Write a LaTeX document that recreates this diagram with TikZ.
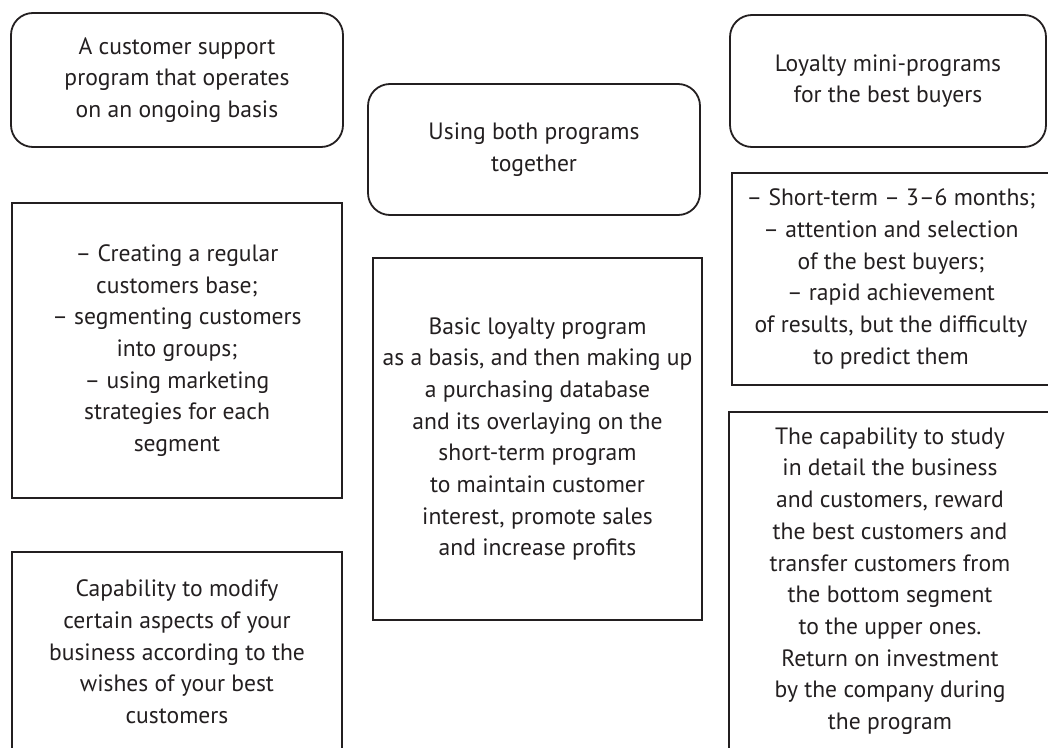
\documentclass[tikz,border=0pt]{standalone}
\usepackage{fontspec}
\setmainfont{PT Sans}
\definecolor{ink}{HTML}{231F20}
\tikzset{
  txt/.style={font=\fontsize{23.6}{31.7}\selectfont, align=center, text=ink, inner sep=0pt},
  box/.style={txt, draw=ink, line width=1.8pt},
  rbox/.style={box, rounded corners=22pt},
}
\begin{document}
\begin{tikzpicture}[x=1pt,y=-1pt]
\useasboundingbox (0,0) rectangle (1048,747);
\clip (0,0) rectangle (1048,747);
\node[rbox, minimum width=332pt, minimum height=134pt] (supp) at (177,80)
  {A customer support\\program that operates\\on an ongoing basis};
\node[rbox, minimum width=316pt, minimum height=132pt] (mini) at (888,81)
  {Loyalty mini-programs\\for the best buyers};
\node[rbox, minimum width=332pt, minimum height=131pt] (both) at (534,149.5)
  {Using both programs\\together};
\node[box, minimum width=330pt, minimum height=295pt] (base) at (177,350.5)
  {-- Creating a regular\\customers base;\\-- segmenting customers\\into groups;\\-- using marketing\\strategies for each\\segment};
\node[box, minimum width=330pt, minimum height=200pt] (modify) at (177,652)
  {Capability to modify\\certain aspects of your\\business according to the\\wishes of your best\\customers};
\node[box, minimum width=329pt, minimum height=362pt] (basic) at (537.5,439)
  {Basic loyalty program\\as a basis, and then making up\\a purchasing database\\and its overlaying on the\\short-term program\\to maintain customer\\interest, promote sales\\and increase profits};
\node[box, minimum width=318pt, minimum height=212pt] (short) at (891,279)
  {-- Short-term -- 3--6 months;\\-- attention and selection\\of the best buyers;\\-- rapid achievement\\of results, but the difficulty\\to predict them};
\node[box, minimum width=322pt, minimum height=338pt] (study) at (890,581)
  {The capability to study\\in detail the business\\and customers, reward\\the best customers and\\transfer customers from\\the bottom segment\\to the upper ones.\\Return on investment\\by the company during\\the program};
\end{tikzpicture}
\end{document}
